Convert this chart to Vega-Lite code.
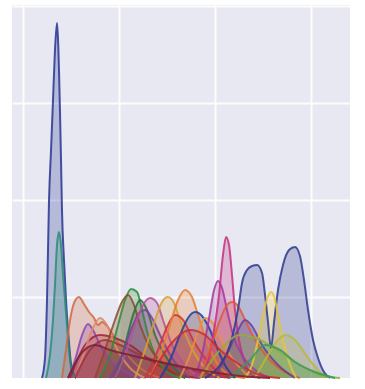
{
  "$schema": "https://vega.github.io/schema/vega-lite/v6.json",
  "width": 338,
  "height": 373,
  "autosize": {"type": "none"},
  "padding": {"left": 12, "top": 5, "right": 15, "bottom": 11},
  "background": "#ffffff",
  "config": {"view": {"fill": "#E8E8F2", "stroke": null}},
  "data": {"values": [
    {"s":"A","x":0.198,"y":0},{"s":"A","x":0.229,"y":0.206},{"s":"A","x":0.25,"y":0.804},{"s":"A","x":0.271,"y":1.835},{"s":"A","x":0.292,"y":2.351},{"s":"A","x":0.3125,"y":2.866},{"s":"A","x":0.333,"y":3.381},{"s":"A","x":0.354,"y":3.66},{"s":"A","x":0.365,"y":3.485},{"s":"A","x":0.385,"y":2.763},{"s":"A","x":0.396,"y":2.247},{"s":"A","x":0.406,"y":1.732},{"s":"A","x":0.427,"y":1.216},{"s":"A","x":0.448,"y":0.804},{"s":"A","x":0.469,"y":0.495},{"s":"A","x":0.49,"y":0.237},{"s":"A","x":0.51,"y":0.082},{"s":"A","x":0.552,"y":0},
    {"s":"B","x":0.24,"y":0},{"s":"B","x":0.281,"y":0.237},{"s":"B","x":0.3125,"y":0.598},{"s":"B","x":0.333,"y":0.959},{"s":"B","x":0.354,"y":1.371},{"s":"B","x":0.375,"y":1.505},{"s":"B","x":0.396,"y":1.371},{"s":"B","x":0.417,"y":1.062},{"s":"B","x":0.4375,"y":0.804},{"s":"B","x":0.458,"y":0.546},{"s":"B","x":0.479,"y":0.289},{"s":"B","x":0.51,"y":0.062},{"s":"B","x":0.552,"y":0},
    {"s":"C","x":0.406,"y":0},{"s":"C","x":0.448,"y":0.289},{"s":"C","x":0.49,"y":0.598},{"s":"C","x":0.531,"y":0.773},{"s":"C","x":0.583,"y":0.835},{"s":"C","x":0.635,"y":0.763},{"s":"C","x":0.688,"y":0.68},{"s":"C","x":0.74,"y":0.619},{"s":"C","x":0.781,"y":0.546},{"s":"C","x":0.823,"y":0.577},{"s":"C","x":0.875,"y":0.536},{"s":"C","x":0.958,"y":0.412},{"s":"C","x":1.063,"y":0.268},{"s":"C","x":1.219,"y":0.103},{"s":"C","x":1.427,"y":0},
    {"s":"D","x":0.469,"y":0},{"s":"D","x":0.542,"y":0.186},{"s":"D","x":0.615,"y":0.443},{"s":"D","x":0.677,"y":0.557},{"s":"D","x":0.74,"y":0.474},{"s":"D","x":0.802,"y":0.34},{"s":"D","x":0.906,"y":0.186},{"s":"D","x":1.063,"y":0.062},{"s":"D","x":1.219,"y":0},
    {"s":"E","x":0.49,"y":0},{"s":"E","x":0.646,"y":0.34},{"s":"E","x":0.802,"y":0.443},{"s":"E","x":0.958,"y":0.412},{"s":"E","x":1.115,"y":0.34},{"s":"E","x":1.323,"y":0.186},{"s":"E","x":1.635,"y":0.031},{"s":"E","x":1.844,"y":0},
    {"s":"U","x":0.542,"y":0},{"s":"U","x":0.646,"y":0.289},{"s":"U","x":0.729,"y":0.515},{"s":"U","x":0.802,"y":0.619},{"s":"U","x":0.875,"y":0.546},{"s":"U","x":0.958,"y":0.34},{"s":"U","x":1.115,"y":0.103},{"s":"U","x":1.271,"y":0},
    {"s":"AC","x":0.542,"y":0},{"s":"AC","x":0.698,"y":0.289},{"s":"AC","x":0.854,"y":0.392},{"s":"AC","x":1.01,"y":0.34},{"s":"AC","x":1.219,"y":0.237},{"s":"AC","x":1.531,"y":0.134},{"s":"AC","x":1.844,"y":0.062},{"s":"AC","x":2.156,"y":0},
    {"s":"F","x":0.802,"y":0},{"s":"F","x":0.906,"y":0.237},{"s":"F","x":0.99,"y":0.546},{"s":"F","x":1.063,"y":0.804},{"s":"F","x":1.125,"y":0.918},{"s":"F","x":1.188,"y":0.887},{"s":"F","x":1.24,"y":0.701},{"s":"F","x":1.302,"y":0.443},{"s":"F","x":1.375,"y":0.237},{"s":"F","x":1.479,"y":0.082},{"s":"F","x":1.635,"y":0},
    {"s":"G","x":0.75,"y":0},{"s":"G","x":0.854,"y":0.289},{"s":"G","x":0.958,"y":0.598},{"s":"G","x":1.031,"y":0.784},{"s":"G","x":1.094,"y":0.856},{"s":"G","x":1.156,"y":0.753},{"s":"G","x":1.219,"y":0.546},{"s":"G","x":1.323,"y":0.309},{"s":"G","x":1.479,"y":0.134},{"s":"G","x":1.688,"y":0},
    {"s":"W","x":0.958,"y":0},{"s":"W","x":1.063,"y":0.34},{"s":"W","x":1.146,"y":0.649},{"s":"W","x":1.219,"y":0.804},{"s":"W","x":1.292,"y":0.701},{"s":"W","x":1.375,"y":0.443},{"s":"W","x":1.51,"y":0.186},{"s":"W","x":1.688,"y":0},
    {"s":"V","x":0.906,"y":0},{"s":"V","x":1.031,"y":0.237},{"s":"V","x":1.146,"y":0.546},{"s":"V","x":1.219,"y":0.68},{"s":"V","x":1.271,"y":0.701},{"s":"V","x":1.344,"y":0.619},{"s":"V","x":1.427,"y":0.443},{"s":"V","x":1.552,"y":0.206},{"s":"V","x":1.74,"y":0},
    {"s":"H","x":0.958,"y":0},{"s":"H","x":1.063,"y":0.237},{"s":"H","x":1.167,"y":0.546},{"s":"H","x":1.25,"y":0.753},{"s":"H","x":1.323,"y":0.825},{"s":"H","x":1.396,"y":0.773},{"s":"H","x":1.458,"y":0.598},{"s":"H","x":1.552,"y":0.34},{"s":"H","x":1.688,"y":0.134},{"s":"H","x":1.844,"y":0},
    {"s":"I","x":1.167,"y":0},{"s":"I","x":1.271,"y":0.289},{"s":"I","x":1.375,"y":0.598},{"s":"I","x":1.448,"y":0.784},{"s":"I","x":1.51,"y":0.835},{"s":"I","x":1.573,"y":0.773},{"s":"I","x":1.635,"y":0.598},{"s":"I","x":1.74,"y":0.34},{"s":"I","x":1.896,"y":0.103},{"s":"I","x":2.052,"y":0},
    {"s":"X","x":1.271,"y":0},{"s":"X","x":1.406,"y":0.289},{"s":"X","x":1.51,"y":0.546},{"s":"X","x":1.583,"y":0.649},{"s":"X","x":1.667,"y":0.598},{"s":"X","x":1.771,"y":0.392},{"s":"X","x":1.927,"y":0.165},{"s":"X","x":2.104,"y":0},
    {"s":"J","x":1.323,"y":0},{"s":"J","x":1.427,"y":0.237},{"s":"J","x":1.531,"y":0.546},{"s":"J","x":1.615,"y":0.804},{"s":"J","x":1.688,"y":0.907},{"s":"J","x":1.76,"y":0.835},{"s":"J","x":1.823,"y":0.649},{"s":"J","x":1.906,"y":0.392},{"s":"J","x":2.0,"y":0.186},{"s":"J","x":2.156,"y":0.031},{"s":"J","x":2.313,"y":0},
    {"s":"K","x":1.427,"y":0},{"s":"K","x":1.531,"y":0.186},{"s":"K","x":1.635,"y":0.443},{"s":"K","x":1.719,"y":0.619},{"s":"K","x":1.792,"y":0.68},{"s":"K","x":1.865,"y":0.639},{"s":"K","x":1.948,"y":0.495},{"s":"K","x":2.031,"y":0.289},{"s":"K","x":2.115,"y":0.113},{"s":"K","x":2.208,"y":0},
    {"s":"Y","x":1.635,"y":0},{"s":"Y","x":1.74,"y":0.237},{"s":"Y","x":1.823,"y":0.474},{"s":"Y","x":1.896,"y":0.619},{"s":"Y","x":1.969,"y":0.577},{"s":"Y","x":2.052,"y":0.412},{"s":"Y","x":2.177,"y":0.206},{"s":"Y","x":2.365,"y":0},
    {"s":"L","x":1.844,"y":0},{"s":"L","x":1.927,"y":0.186},{"s":"L","x":1.99,"y":0.495},{"s":"L","x":2.042,"y":0.856},{"s":"L","x":2.083,"y":1.268},{"s":"L","x":2.115,"y":1.454},{"s":"L","x":2.146,"y":1.371},{"s":"L","x":2.177,"y":1.062},{"s":"L","x":2.208,"y":0.701},{"s":"L","x":2.25,"y":0.392},{"s":"L","x":2.302,"y":0.186},{"s":"L","x":2.385,"y":0.031},{"s":"L","x":2.469,"y":0},
    {"s":"M","x":1.792,"y":0},{"s":"M","x":1.875,"y":0.289},{"s":"M","x":1.938,"y":0.619},{"s":"M","x":1.99,"y":0.907},{"s":"M","x":2.031,"y":1.0},{"s":"M","x":2.073,"y":0.928},{"s":"M","x":2.125,"y":0.701},{"s":"M","x":2.188,"y":0.443},{"s":"M","x":2.281,"y":0.237},{"s":"M","x":2.417,"y":0.082},{"s":"M","x":2.573,"y":0},
    {"s":"N","x":1.844,"y":0},{"s":"N","x":1.948,"y":0.289},{"s":"N","x":2.052,"y":0.598},{"s":"N","x":2.125,"y":0.753},{"s":"N","x":2.177,"y":0.784},{"s":"N","x":2.24,"y":0.742},{"s":"N","x":2.313,"y":0.598},{"s":"N","x":2.417,"y":0.392},{"s":"N","x":2.552,"y":0.206},{"s":"N","x":2.729,"y":0.062},{"s":"N","x":2.885,"y":0},
    {"s":"Z","x":2.0,"y":0},{"s":"Z","x":2.135,"y":0.268},{"s":"Z","x":2.24,"y":0.495},{"s":"Z","x":2.313,"y":0.598},{"s":"Z","x":2.385,"y":0.536},{"s":"Z","x":2.49,"y":0.34},{"s":"Z","x":2.656,"y":0.134},{"s":"Z","x":2.833,"y":0},
    {"s":"O","x":1.896,"y":0},{"s":"O","x":2.052,"y":0.134},{"s":"O","x":2.156,"y":0.34},{"s":"O","x":2.219,"y":0.598},{"s":"O","x":2.25,"y":0.773},{"s":"O","x":2.281,"y":0.979},{"s":"O","x":2.333,"y":1.113},{"s":"O","x":2.385,"y":1.155},{"s":"O","x":2.438,"y":1.165},{"s":"O","x":2.49,"y":1.082},{"s":"O","x":2.521,"y":0.856},{"s":"O","x":2.552,"y":0.577},{"s":"O","x":2.583,"y":0.309},{"s":"O","x":2.615,"y":0.577},{"s":"O","x":2.656,"y":0.907},{"s":"O","x":2.708,"y":1.165},{"s":"O","x":2.771,"y":1.32},{"s":"O","x":2.833,"y":1.351},{"s":"O","x":2.885,"y":1.258},{"s":"O","x":2.927,"y":1.01},{"s":"O","x":2.969,"y":0.701},{"s":"O","x":3.021,"y":0.392},{"s":"O","x":3.073,"y":0.206},{"s":"O","x":3.135,"y":0.062},{"s":"O","x":3.198,"y":0},
    {"s":"P","x":2.313,"y":0},{"s":"P","x":2.385,"y":0.134},{"s":"P","x":2.448,"y":0.392},{"s":"P","x":2.5,"y":0.649},{"s":"P","x":2.552,"y":0.845},{"s":"P","x":2.583,"y":0.887},{"s":"P","x":2.615,"y":0.845},{"s":"P","x":2.656,"y":0.649},{"s":"P","x":2.708,"y":0.392},{"s":"P","x":2.771,"y":0.165},{"s":"P","x":2.844,"y":0},
    {"s":"AA","x":2.417,"y":0},{"s":"AA","x":2.552,"y":0.237},{"s":"AA","x":2.656,"y":0.392},{"s":"AA","x":2.74,"y":0.443},{"s":"AA","x":2.833,"y":0.392},{"s":"AA","x":2.969,"y":0.206},{"s":"AA","x":3.146,"y":0},
    {"s":"Q","x":1.844,"y":0},{"s":"Q","x":2.052,"y":0.289},{"s":"Q","x":2.26,"y":0.443},{"s":"Q","x":2.469,"y":0.392},{"s":"Q","x":2.677,"y":0.268},{"s":"Q","x":2.885,"y":0.134},{"s":"Q","x":3.094,"y":0.031},{"s":"Q","x":3.302,"y":0},
    {"s":"R","x":1.323,"y":0},{"s":"R","x":1.531,"y":0.34},{"s":"R","x":1.74,"y":0.495},{"s":"R","x":1.896,"y":0.443},{"s":"R","x":2.052,"y":0.289},{"s":"R","x":2.26,"y":0.134},{"s":"R","x":2.469,"y":0.031},{"s":"R","x":2.677,"y":0},
    {"s":"S","x":2.156,"y":0},{"s":"S","x":2.365,"y":0.186},{"s":"S","x":2.521,"y":0.34},{"s":"S","x":2.677,"y":0.289},{"s":"S","x":2.833,"y":0.165},{"s":"S","x":3.042,"y":0.062},{"s":"S","x":3.25,"y":0},
    {"s":"T","x":0.469,"y":0},{"s":"T","x":0.594,"y":0.237},{"s":"T","x":0.75,"y":0.34},{"s":"T","x":0.906,"y":0.289},{"s":"T","x":1.115,"y":0.237},{"s":"T","x":1.427,"y":0.165},{"s":"T","x":1.844,"y":0.082},{"s":"T","x":2.26,"y":0.021},{"s":"T","x":2.573,"y":0}
  ]},
  "encoding": {
    "x": {"field": "x", "type": "quantitative",
      "scale": {"domain": [-0.1146, 3.406], "nice": false, "zero": false},
      "axis": {"values": [0, 1, 2, 3], "labels": false, "ticks": false, "domain": false, "title": null, "grid": true, "gridColor": "#ffffff", "gridWidth": 2, "gridOpacity": 0.85}},
    "y": {"field": "y", "type": "quantitative", "stack": null,
      "scale": {"domain": [0, 3.845], "nice": false, "zero": false},
      "axis": {"values": [0.835, 1.835, 2.835, 3.835], "labels": false, "ticks": false, "domain": false, "title": null, "grid": true, "gridColor": "#ffffff", "gridWidth": 2, "gridOpacity": 0.85}},
    "color": {"field": "s", "type": "nominal", "legend": null,
      "scale": {"domain": ["A","B","C","D","E","U","AC","F","G","W","V","H","I","X","J","K","Y","L","M","N","Z","O","P","AA","Q","R","S","T"],
        "range": ["#283593","#2a8c74","#d0693f","#8e44ad","#9b2335","#e08a6a","#a03040","#2e8b3a","#8b4a2b","#2d6e3e","#7b3f9e","#b5529a","#d4a030","#d03040","#e67e30","#1f3fa0","#e89040","#c2307f","#a03a9e","#e0583a","#6a3d9a","#2e3a8c","#e8c43a","#b8b83a","#8fae3a","#cc2936","#3a9a5a","#7d1f35"]}}
  },
  "layer": [
    {"mark": {"type": "area", "interpolate": "monotone", "fillOpacity": 0.26}},
    {"mark": {"type": "line", "interpolate": "monotone", "strokeWidth": 2, "strokeOpacity": 0.85}}
  ]
}
